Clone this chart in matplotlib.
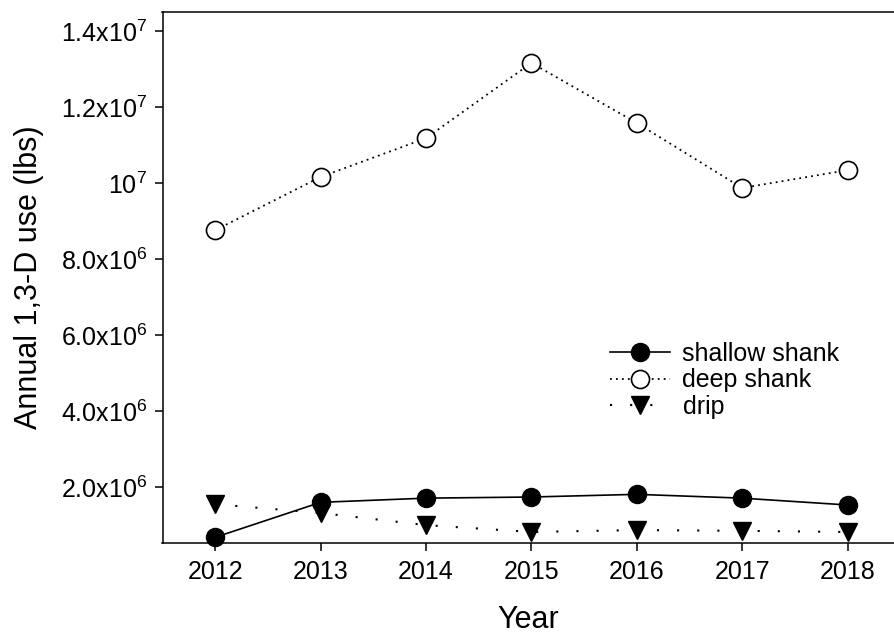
import matplotlib
matplotlib.use("Agg")
import matplotlib.pyplot as plt

plt.rcParams['font.family'] = ['Liberation Sans', 'DejaVu Sans']
plt.rcParams['mathtext.fontset'] = 'custom'
plt.rcParams['mathtext.rm'] = 'Liberation Sans'
plt.rcParams['mathtext.it'] = 'Liberation Sans'
plt.rcParams['lines.scale_dashes'] = False

years = [2012, 2013, 2014, 2015, 2016, 2017, 2018]
shallow_shank = [0.68e6, 1.60e6, 1.71e6, 1.74e6, 1.81e6, 1.71e6, 1.53e6]
deep_shank = [8.76e6, 10.16e6, 11.18e6, 13.16e6, 11.58e6, 9.87e6, 10.34e6]
drip = [1.55e6, 1.32e6, 1.00e6, 0.82e6, 0.87e6, 0.85e6, 0.82e6]

ytick_values = [2e6, 4e6, 6e6, 8e6, 1e7, 1.2e7, 1.4e7]
ytick_labels = [r'2.0x10$^{6}$', r'4.0x10$^{6}$', r'6.0x10$^{6}$', r'8.0x10$^{6}$',
                r'10$^{7}$', r'1.2x10$^{7}$', r'1.4x10$^{7}$']

fig = plt.figure(figsize=(8.94, 6.34), dpi=100)
ax = fig.add_axes([162.5/894, 1 - 543/634, 1 - 162.5/894, (543 - 12)/634])

ax.plot(years, shallow_shank, color='black', lw=1.2, linestyle='-',
        marker='o', markersize=13, markerfacecolor='black', markeredgecolor='black',
        label='shallow shank', zorder=3, clip_on=False)
ax.plot(years, deep_shank, color='black', lw=1.3, linestyle=(0, (1.3, 3.0)),
        marker='o', markersize=13, markerfacecolor='white', markeredgecolor='black',
        markeredgewidth=1.2, label='deep shank', zorder=3, clip_on=False)
ax.plot(years, drip, color='black', lw=1.5, linestyle=(0, (1.5, 13)),
        marker='v', markersize=13, markerfacecolor='black', markeredgecolor='black',
        label='drip', zorder=2, clip_on=False)

ax.set_xlim(2011.5, 2018.44)
ax.set_ylim(0.53e6, 1.45e7)
ax.set_xticks(years)
ax.set_xticklabels([str(y) for y in years])
ax.set_yticks(ytick_values)
ax.set_yticklabels(ytick_labels)

ax.tick_params(axis='both', direction='out', length=6, width=1.1, labelsize=18, colors='black')
ax.tick_params(axis='x', pad=6)
ax.tick_params(axis='y', pad=5)
for s in ['left', 'bottom', 'top']:
    ax.spines[s].set_linewidth(1.1)
ax.spines['right'].set_visible(False)

ax.set_xlabel('Year', fontsize=22, labelpad=15)
ax.set_ylabel('Annual 1,3-D use (lbs)', fontsize=22, labelpad=12)

leg = ax.legend(loc='upper left', bbox_to_anchor=(610/894, 1 - 342/634),
                bbox_transform=fig.transFigure, frameon=False, fontsize=18,
                handlelength=2.4, handletextpad=0.5, labelspacing=0.1,
                borderpad=0, borderaxespad=0)

fig.savefig('out.png', dpi=100)
